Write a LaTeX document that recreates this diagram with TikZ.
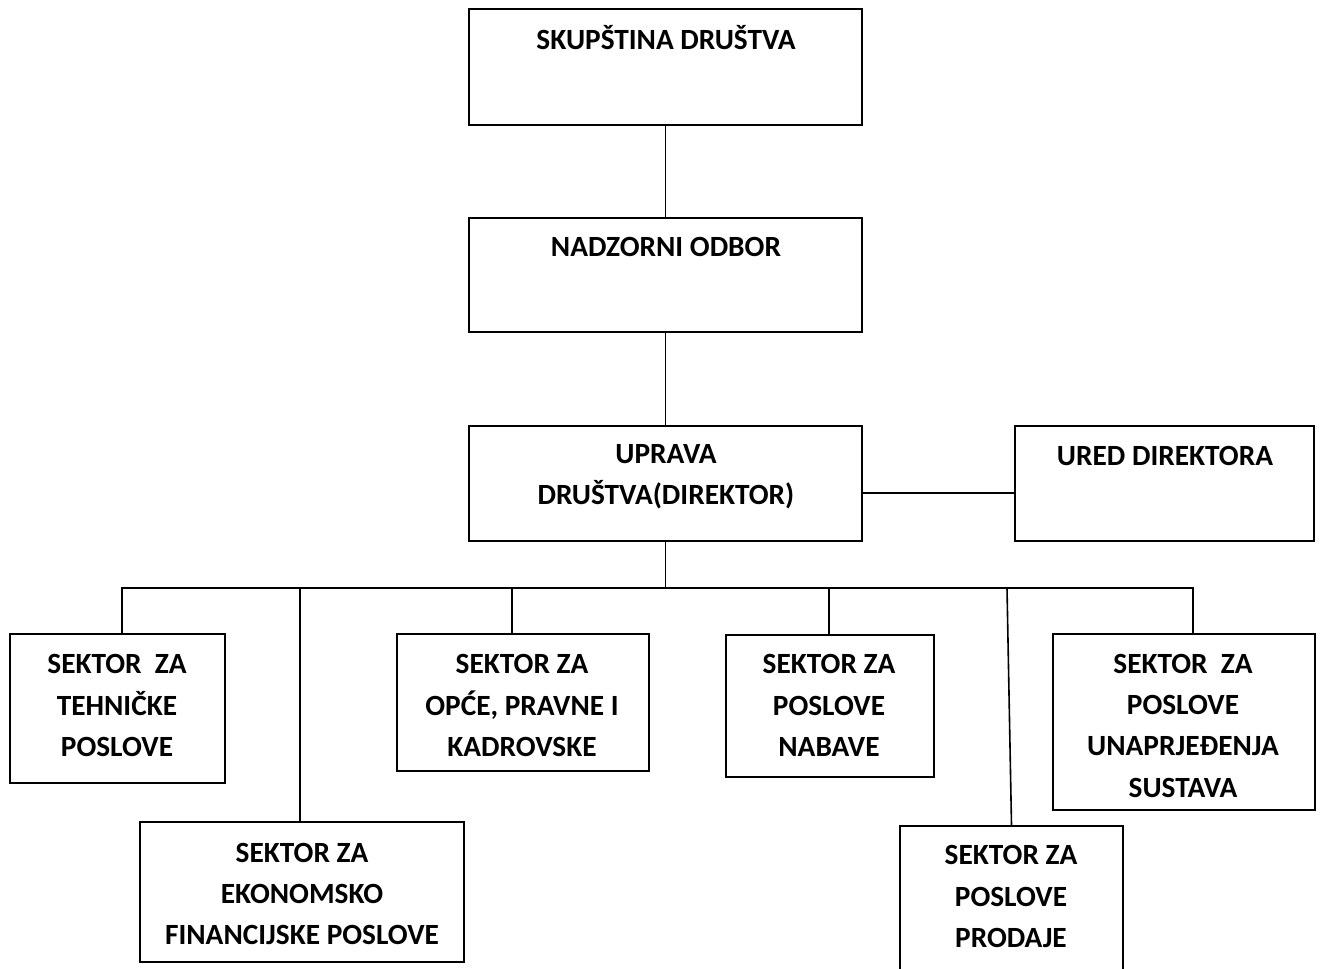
\documentclass[tikz,border=0pt]{standalone}
\usepackage{fontspec}
\setmainfont{Carlito}
\begin{document}
\begin{tikzpicture}[x=0.75pt,y=-0.75pt,
  box/.style={draw,line width=1.5pt,rectangle,inner sep=0pt},
  lbl/.style={font=\fontsize{22}{31}\selectfont\bfseries,align=center,inner sep=0pt},
  conn/.style={line width=1.2pt}]
\useasboundingbox (0,0) rectangle (1322,969);
% boxes
\node[box,minimum width=294.75pt,minimum height=87pt] (skup) at (665.5,67) {};
\node[box,minimum width=294.75pt,minimum height=85.5pt] (nadz) at (665.5,275) {};
\node[box,minimum width=294.75pt,minimum height=86.25pt] (upr) at (665.5,483.5) {};
\node[box,minimum width=224.25pt,minimum height=86.25pt] (ured) at (1164.5,483.5) {};
\node[box,minimum width=161.25pt,minimum height=111.75pt] (teh) at (117.5,708.5) {};
\node[box,minimum width=243pt,minimum height=105pt] (eko) at (302,892) {};
\node[box,minimum width=189pt,minimum height=102.75pt] (opce) at (523,702.5) {};
\node[box,minimum width=156pt,minimum height=106.5pt] (nab) at (830,706) {};
\node[box,minimum width=196.5pt,minimum height=132pt] (una) at (1184,722) {};
\node[box,minimum width=167.25pt,minimum height=130.5pt] (prod) at (1011.5,913) {};
% texts
\node[lbl] (tskup) at (666,38) {SKUPŠTINA DRUŠTVA};
\node[lbl] (tnadz) at (666,247) {NADZORNI ODBOR};
\node[lbl] (tupr) at (666,476.5) {UPRAVA\\DRUŠTVA(DIREKTOR)};
\node[lbl] (tured) at (1165,456) {URED DIREKTORA};
\node[lbl] (tteh) at (117,705.5) {SEKTOR~ ZA\\TEHNIČKE\\POSLOVE};
\node[lbl] (teko) at (302,894) {SEKTOR ZA\\EKONOMSKO\\FINANCIJSKE POSLOVE};
\node[lbl] (topce) at (522,705.5) {SEKTOR ZA\\OPĆE, PRAVNE I\\KADROVSKE};
\node[lbl] (tnab) at (829,705.5) {SEKTOR ZA\\POSLOVE\\NABAVE};
\node[lbl] (tuna) at (1183,725.5) {SEKTOR~ ZA\\POSLOVE\\UNAPRJEĐENJA\\SUSTAVA};
\node[lbl] (tprod) at (1011,896.5) {SEKTOR ZA\\POSLOVE\\PRODAJE};
% connectors
\coordinate (h1) at (862,493);
\coordinate (bus) at (667,588);
\coordinate (bl) at (122,588);
\coordinate (br) at (1193,588);
\coordinate (b2) at (300,588);
\coordinate (b3) at (512,588);
\coordinate (b4) at (829,588);
\coordinate (b5) at (1007,588);
\draw[conn] (skup.south) -- (nadz.north);
\draw[conn] (nadz.south) -- (upr.north);
\draw[conn] (upr.east |- h1) -- (ured.west |- h1);
\draw[conn] (upr.south) -- (upr.south |- bus);
\draw[conn] (teh.north -| bl) -- (bl) -- (br) -- (una.north -| br);
\draw[conn] (b2) -- (eko.north -| b2);
\draw[conn] (b3) -- (opce.north -| b3);
\draw[conn] (b4) -- (nab.north -| b4);
\draw[conn] (b5) -- (prod.north);
\end{tikzpicture}
\end{document}
